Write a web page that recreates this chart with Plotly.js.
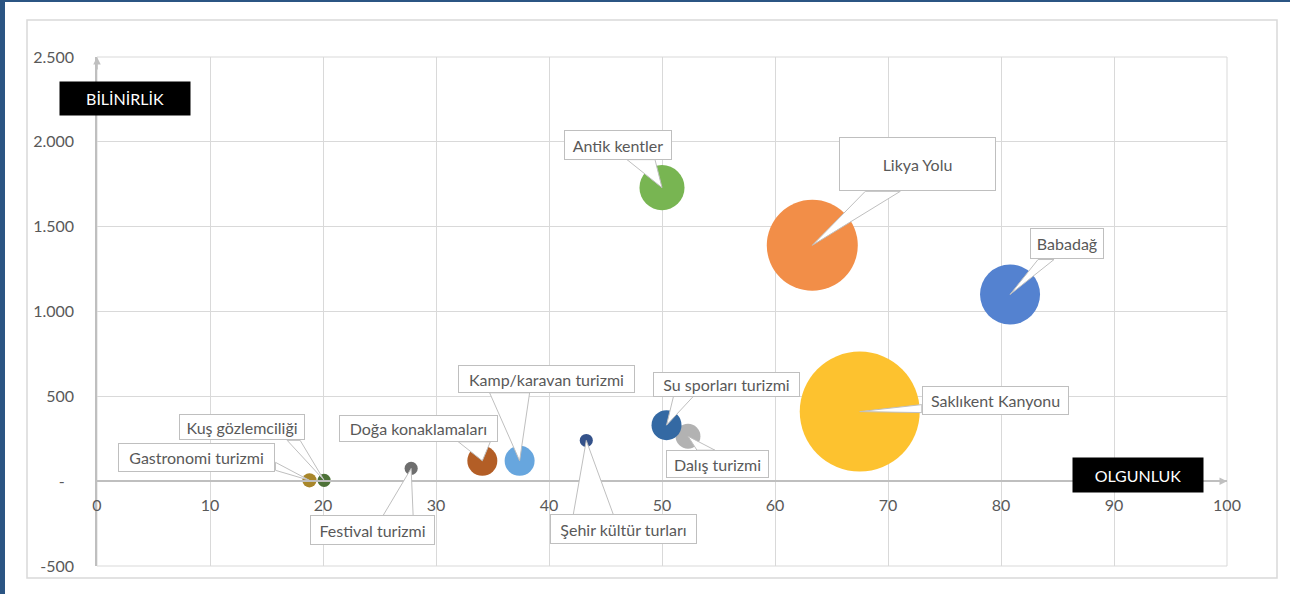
<!DOCTYPE html>
<html>
<head>
<meta charset="utf-8">
<script src="https://cdn.plot.ly/plotly-3.0.1.min.js"></script>
<style>
html,body{margin:0;padding:0;background:#fff;}
#wrap{width:1285px;height:592px;border-left:5px solid #2b5583;border-top:2px solid #2b5583;background:#fff;}
#chart{width:1285px;height:592px;}
</style>
</head>
<body>
<div id="wrap"><div id="chart"></div></div>
<script>
// ---- DATA ----
const destinasyonlar = ["Babadağ","Likya Yolu","Dalış turizmi","Saklıkent Kanyonu","Kamp/karavan turizmi","Antik kentler","Şehir kültür turları","Doğa konaklamaları","Festival turizmi","Gastronomi turizmi","Su sporları turizmi","Kuş gözlemciliği"];
const olgunluk   = [80.8, 63.3, 52.3, 67.5, 37.4, 50.0, 43.3, 34.1, 27.8, 18.8, 50.4, 20.1];
const bilinirlik = [1100, 1390, 265, 410, 120, 1730, 240, 120, 75, 5, 330, 5];
const boyut      = [25, 57.5, 4.3, 100, 6.25, 14.1, 1.2, 6.25, 1.2, 1.4, 6.25, 1.2];
const yTickVals  = [-500, 0, 500, 1000, 1500, 2000, 2500];
const yTickText  = ["-500", "-\u2007", "500", "1.000", "1.500", "2.000", "2.500"];
const xTickVals  = [0, 10, 20, 30, 40, 50, 60, 70, 80, 90, 100];
const xTickText  = ["0", "10", "20", "30", "40", "50", "60", "70", "80", "90", "100"];

// ---- STYLE / LAYOUT SETTINGS ----
const renkler = ["#5482D0","#F28E48","#B2B2B2","#FDC22F","#67A6DE","#78B552","#34528A","#B35E26","#6E6E6E","#A8862A","#3469A3","#4E7238"];
// label callouts: [box dx, box dy, box w, box h, wedge base1 dx, dy, base2 dx, dy] in screen px (down positive), relative to bubble centre
const etiketYerlesim = [
  [57, -51, 74, 31, 28, -35, 44, -35],
  [105, -81, 157, 54, 53, -54, 88, -54],
  [30, 28, 103, 28, 9, 14, 27, 14],
  [136, -11, 147, 29, 62, -7, 62, 1],
  [27, -82, 177, 28, -30, -68, 10, -68],
  [-44, -43, 108, 30, -35, -28, -7, -28],
  [37, 89, 147, 30, -13, 74, 27, 74],
  [-64, -32, 159, 27, -24, -19, 8, -19],
  [-39, 62, 125, 30, -28, 47, 2, 47],
  [-113, -23, 157, 29, -34, -18, -34, -10],
  [60, -41, 147, 25, 7, -29, 27, -29],
  [-82, -53, 126, 26, -37, -40, -24, -40]
];
const FONT = "Lato, 'Open Sans', sans-serif";
const maxD = 120;

const W = 1285, H = 592;
const M = {l: 92, r: 63, t: 55, b: 28};
const PW = W - M.l - M.r, PH = H - M.t - M.b;
const px2paperX = p => (p - M.l) / PW;
const px2paperY = p => (H - M.b - p) / PH;

const trace = {
  type: "scatter",
  mode: "markers",
  x: olgunluk,
  y: bilinirlik,
  text: destinasyonlar,
  hoverinfo: "text",
  marker: {
    size: boyut,
    sizemode: "area",
    sizeref: 2 * Math.max(...boyut) / (maxD * maxD),
    color: renkler,
    opacity: 1,
    line: {width: 0}
  },
  showlegend: false
};

const shapes = [];
// outer chart border
shapes.push({type: "rect", xref: "paper", yref: "paper",
  x0: px2paperX(22), x1: px2paperX(1272), y0: px2paperY(576), y1: px2paperY(18),
  line: {color: "#d9d9d9", width: 1.5}, fillcolor: "rgba(0,0,0,0)", layer: "below"});
// plot-area frame (grid lines at the range edges)
shapes.push({type: "rect", xref: "paper", yref: "paper", x0: 0, x1: 1, y0: 0, y1: 1,
  line: {color: "#d9d9d9", width: 1}, fillcolor: "rgba(0,0,0,0)", layer: "below"});

const annotations = [];
destinasyonlar.forEach((ad, i) => {
  const e = etiketYerlesim[i];
  // wedge of the callout
  shapes.push({
    type: "path", xref: "x", yref: "y",
    xsizemode: "pixel", ysizemode: "pixel",
    xanchor: olgunluk[i], yanchor: bilinirlik[i],
    path: `M 0 0 L ${e[4]} ${-e[5]} L ${e[6]} ${-e[7]} Z`,
    fillcolor: "#ffffff", line: {color: "#bfbfbf", width: 1}, layer: "above"
  });
  annotations.push({
    x: olgunluk[i], y: bilinirlik[i], xref: "x", yref: "y",
    text: ad, showarrow: false,
    xshift: e[0], yshift: -e[1],
    width: e[2] - 2, height: e[3] - 2,
    bgcolor: "#ffffff", bordercolor: "#bfbfbf", borderwidth: 1, borderpad: 0,
    font: {family: FONT, size: 16, color: "#595959"},
    align: "center", valign: "middle"
  });
});

// axis arrows
annotations.push({x: 100, y: 0, xref: "x", yref: "y", ax: -14, ay: 0, text: "",
  showarrow: true, arrowhead: 2, arrowsize: 1, arrowwidth: 1.5, arrowcolor: "#bfbfbf"});
annotations.push({x: 0, y: 2500, xref: "x", yref: "y", ax: 0, ay: 14, text: "",
  showarrow: true, arrowhead: 2, arrowsize: 1, arrowwidth: 1.5, arrowcolor: "#bfbfbf"});

// axis titles (black boxes)
annotations.push({xref: "paper", yref: "paper", x: px2paperX(120), y: px2paperY(96.5),
  text: "BİLİNİRLİK", showarrow: false, bgcolor: "#000000", borderpad: 0,
  width: 130, height: 33, font: {family: FONT, size: 16, color: "#ffffff"},
  xanchor: "center", yanchor: "middle"});
annotations.push({xref: "paper", yref: "paper", x: px2paperX(1133), y: px2paperY(473),
  text: "OLGUNLUK", showarrow: false, bgcolor: "#000000", borderpad: 0,
  width: 130, height: 34, font: {family: FONT, size: 16, color: "#ffffff"},
  xanchor: "center", yanchor: "middle"});

const layout = {
  width: W, height: H,
  margin: M,
  paper_bgcolor: "#ffffff",
  plot_bgcolor: "#ffffff",
  xaxis: {
    range: [0, 100], tickvals: xTickVals, ticktext: xTickText,
    showgrid: true, gridcolor: "#d9d9d9", gridwidth: 1,
    zeroline: false, showline: true, linecolor: "#bfbfbf", linewidth: 1.5,
    anchor: "free", position: 500 / 3000,
    ticks: "", ticklabelstandoff: 10,
    tickfont: {family: FONT, size: 16, color: "#595959"},
    fixedrange: true
  },
  yaxis: {
    range: [-500, 2500], tickvals: yTickVals, ticktext: yTickText,
    showgrid: true, gridcolor: "#d9d9d9", gridwidth: 1,
    zeroline: false, showline: true, linecolor: "#bfbfbf", linewidth: 1.5,
    ticks: "", ticklabelstandoff: 18,
    tickfont: {family: FONT, size: 16, color: "#595959"},
    fixedrange: true
  },
  shapes: shapes,
  annotations: annotations,
  hovermode: "closest"
};

Plotly.newPlot("chart", [trace], layout, {displayModeBar: false, staticPlot: false});
</script>
</body>
</html>
